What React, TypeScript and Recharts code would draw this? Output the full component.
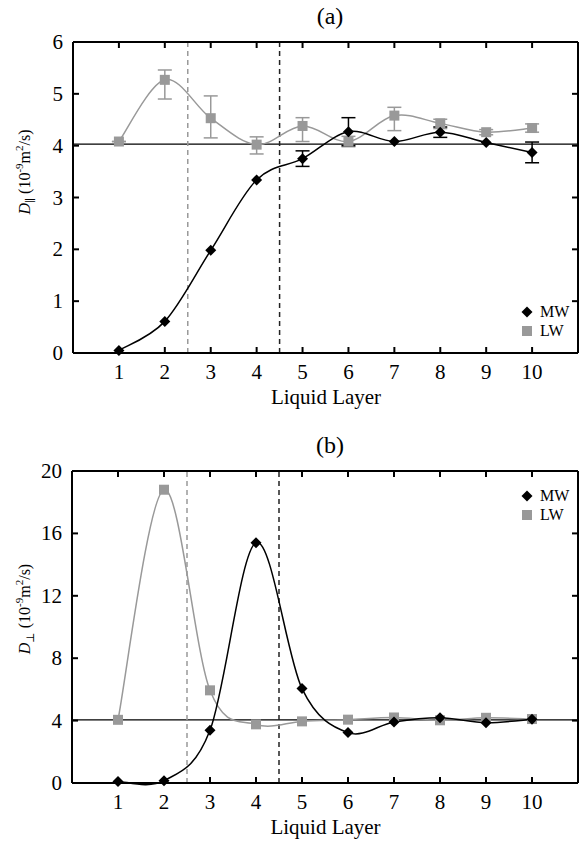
import React from "react";
import {
  ComposedChart,
  Line,
  XAxis,
  YAxis,
  ReferenceLine,
  ErrorBar,
} from "recharts";

const layers = [1, 2, 3, 4, 5, 6, 7, 8, 9, 10];
const xTicks = [1, 2, 3, 4, 5, 6, 7, 8, 9, 10];

// panel (a): parallel diffusion
const mwParallel = [0.05, 0.61, 1.98, 3.34, 3.75, 4.27, 4.08, 4.26, 4.06, 3.87];
const mwParallelErr = [0, 0, 0, 0, 0.15, 0.27, 0, 0.1, 0, 0.2];
const lwParallel = [4.08, 5.27, 4.53, 4.02, 4.38, 4.08, 4.58, 4.43, 4.26, 4.34];
const lwParallelErrLow = [0, 0.37, 0.38, 0.18, 0.3, 0.1, 0.29, 0.1, 0.05, 0.08];
const lwParallelErrHigh = [0, 0.19, 0.43, 0.15, 0.16, 0.1, 0.16, 0.08, 0.05, 0.08];
const parallelTicks = [0, 1, 2, 3, 4, 5, 6];

// panel (b): perpendicular diffusion
const mwPerp = [0.1, 0.15, 3.38, 15.4, 6.05, 3.23, 3.91, 4.19, 3.87, 4.08];
const lwPerp = [4.05, 18.8, 5.94, 3.76, 3.95, 4.06, 4.2, 4.02, 4.18, 4.1];
const perpTicks = [0, 4, 8, 12, 16, 20];

const bulkParallel = 4.03;
const bulkPerp = 4.05;
const boundaryInner = 2.5;
const boundaryOuter = 4.5;

const FONT = '"Liberation Serif", "DejaVu Serif", serif';
const GRAY = "#999999";
const W = 581;
const TICK = 6;

const parallelData = layers.map((layer, i) => ({
  layer,
  mw: mwParallel[i],
  mwErr: mwParallelErr[i],
  lw: lwParallel[i],
  lwErr: [lwParallelErrLow[i], lwParallelErrHigh[i]],
}));

const perpData = layers.map((layer, i) => ({
  layer,
  mw: mwPerp[i],
  lw: lwPerp[i],
}));

// Catmull-Rom spline, close to the smoothed lines in the figure
function catmullRom(context: any) {
  let xs: number[] = [];
  let ys: number[] = [];
  return {
    areaStart() {},
    areaEnd() {},
    lineStart() {
      xs = [];
      ys = [];
    },
    point(x: number, y: number) {
      xs.push(+x);
      ys.push(+y);
    },
    lineEnd() {
      const n = xs.length;
      if (!n) return;
      context.moveTo(xs[0], ys[0]);
      for (let i = 0; i < n - 1; i++) {
        const a = Math.max(i - 1, 0);
        const d = Math.min(i + 2, n - 1);
        context.bezierCurveTo(
          xs[i] + (xs[i + 1] - xs[a]) / 6,
          ys[i] + (ys[i + 1] - ys[a]) / 6,
          xs[i + 1] - (xs[d] - xs[i]) / 6,
          ys[i + 1] - (ys[d] - ys[i]) / 6,
          xs[i + 1],
          ys[i + 1]
        );
      }
    },
  };
}

const diamondDot = (p: any) => {
  const r = 5.5;
  return (
    <path
      key={`d-${p.index}`}
      d={`M${p.cx},${p.cy - r}L${p.cx + r},${p.cy}L${p.cx},${p.cy + r}L${p.cx - r},${p.cy}Z`}
      fill="#000"
    />
  );
};

const squareDot = (p: any) => (
  <rect key={`s-${p.index}`} x={p.cx - 5} y={p.cy - 5} width={10} height={10} fill={GRAY} />
);

const frame = { stroke: "#000", strokeWidth: 2 };

// inward ticks, drawn by the tick renderers
const bottomTick = (axisY: number) => (p: any) => (
  <g key={`b-${p.index}`}>
    <line x1={p.x} x2={p.x} y1={axisY} y2={axisY - TICK} stroke="#000" strokeWidth={2} />
    <text x={p.x} y={axisY + 26} textAnchor="middle" fontFamily={FONT} fontSize={21} fill="#000">
      {p.payload.value}
    </text>
  </g>
);

const topTick = (axisY: number) => (p: any) => (
  <line key={`t-${p.index}`} x1={p.x} x2={p.x} y1={axisY} y2={axisY + TICK} stroke="#000" strokeWidth={2} />
);

const leftTick = (axisX: number) => (p: any) => (
  <g key={`l-${p.index}`}>
    <line x1={axisX} x2={axisX + TICK} y1={p.y} y2={p.y} stroke="#000" strokeWidth={2} />
    <text x={axisX - 10} y={p.y + 7} textAnchor="end" fontFamily={FONT} fontSize={21} fill="#000">
      {p.payload.value}
    </text>
  </g>
);

const rightTick = (axisX: number) => (p: any) => (
  <line key={`r-${p.index}`} x1={axisX} x2={axisX - TICK} y1={p.y} y2={p.y} stroke="#000" strokeWidth={2} />
);

function LegendBox({ left, top }: { left: number; top: number }) {
  const row = (icon: React.ReactNode, text: string, y: number) => (
    <div
      style={{
        position: "absolute",
        left,
        top: y - 9,
        height: 18,
        display: "flex",
        alignItems: "center",
        fontFamily: FONT,
        fontSize: 16,
        whiteSpace: "nowrap",
      }}
    >
      <svg width={14} height={14}>{icon}</svg>
      <span style={{ marginLeft: 6 }}>{text}</span>
    </div>
  );
  return (
    <>
      {row(<path d="M7,1.5L12.5,7L7,12.5L1.5,7Z" fill="#000" />, "MW", top)}
      {row(<rect x={2} y={2} width={10} height={10} fill={GRAY} />, "LW", top + 19)}
    </>
  );
}

function YLabel({ x, y, sub }: { x: number; y: number; sub: string }) {
  return (
    <text transform={`translate(${x}, ${y}) rotate(-90)`} textAnchor="middle" fontFamily={FONT} fontSize={16} fill="#000">
      <tspan fontStyle="italic">D</tspan>
      <tspan fontSize={11} dy={4}>{sub}</tspan>
      <tspan dy={-4}> (10</tspan>
      <tspan fontSize={11} dy={-7}>-9</tspan>
      <tspan dy={7}>m</tspan>
      <tspan fontSize={11} dy={-7}>2</tspan>
      <tspan dy={7}>/s)</tspan>
    </text>
  );
}

interface PanelProps {
  top: number;
  height: number;
  title: string;
  data: any[];
  yDomain: [number, number];
  yTicks: number[];
  bulk: number;
  margin: { top: number; right: number; bottom: number; left: number };
  yAxisWidth: number;
  sub: string;
  yLabelCenter: number;
  xLabelBaseline: number;
  legendTop: number;
  errors: boolean;
}

function Panel(props: PanelProps) {
  const { data, yDomain, yTicks, margin, yAxisWidth, height } = props;
  const plotLeft = margin.left + yAxisWidth;
  const plotRight = W - margin.right;
  const plotBottom = height - margin.bottom - 30;
  const plotCenter = (plotLeft + plotRight) / 2;
  return (
    <div style={{ position: "absolute", left: 0, top: props.top, width: W, height }}>
      <div
        style={{
          position: "absolute",
          left: 280,
          width: 100,
          top: margin.top - 40,
          textAlign: "center",
          fontFamily: FONT,
          fontSize: 24,
          lineHeight: "30px",
        }}
      >
        {props.title}
      </div>
      <ComposedChart width={W} height={height} data={data} margin={margin}>
        <XAxis
          dataKey="layer"
          type="number"
          domain={[0, 11]}
          ticks={xTicks}
          height={30}
          axisLine={frame}
          tickLine={false}
          tick={bottomTick(plotBottom)}
          label={{
            content: () => (
              <text x={plotCenter} y={props.xLabelBaseline} textAnchor="middle" fontFamily={FONT} fontSize={21} fill="#000">
                Liquid Layer
              </text>
            ),
          }}
        />
        <XAxis
          xAxisId="t"
          orientation="top"
          dataKey="layer"
          type="number"
          domain={[0, 11]}
          ticks={xTicks}
          height={1}
          axisLine={frame}
          tickLine={false}
          tick={topTick(margin.top + 1)}
        />
        <YAxis
          type="number"
          domain={yDomain}
          ticks={yTicks}
          width={yAxisWidth}
          axisLine={frame}
          tickLine={false}
          tick={leftTick(plotLeft)}
          label={{ content: () => <YLabel x={30} y={props.yLabelCenter} sub={props.sub} /> }}
        />
        <YAxis
          yAxisId="r"
          orientation="right"
          type="number"
          domain={yDomain}
          ticks={yTicks}
          width={1}
          axisLine={frame}
          tickLine={false}
          tick={rightTick(plotRight - 1)}
        />
        <ReferenceLine y={props.bulk} stroke="#000" strokeWidth={1.2} />
        <ReferenceLine x={boundaryInner} stroke={GRAY} strokeWidth={1.5} strokeDasharray="5 4" />
        <ReferenceLine x={boundaryOuter} stroke="#222" strokeWidth={1.5} strokeDasharray="5 4" />
        {/* invisible series that binds the top and right frame axes */}
        <Line
          xAxisId="t"
          yAxisId="r"
          dataKey="lw"
          stroke="none"
          dot={false}
          activeDot={false}
          legendType="none"
          isAnimationActive={false}
        />
        <Line
          dataKey="lw"
          type={catmullRom as any}
          stroke={GRAY}
          strokeWidth={1.5}
          dot={squareDot}
          activeDot={false}
          isAnimationActive={false}
        >
          {props.errors && <ErrorBar dataKey="lwErr" direction="y" width={7} stroke={GRAY} strokeWidth={1.5} />}
        </Line>
        <Line
          dataKey="mw"
          type={catmullRom as any}
          stroke="#000"
          strokeWidth={1.5}
          dot={diamondDot}
          activeDot={false}
          isAnimationActive={false}
        >
          {props.errors && <ErrorBar dataKey="mwErr" direction="y" width={7} stroke="#000" strokeWidth={1.5} />}
        </Line>
      </ComposedChart>
      <LegendBox left={520} top={props.legendTop} />
    </div>
  );
}

export default function App() {
  return (
    <div style={{ position: "absolute", left: 0, top: 0, width: W, height: 841, background: "#fff" }}>
      <Panel
        top={0}
        height={420}
        title="(a)"
        data={parallelData}
        yDomain={[0, 6]}
        yTicks={parallelTicks}
        bulk={bulkParallel}
        margin={{ top: 41, right: 2, bottom: 37, left: 0 }}
        yAxisWidth={73}
        sub="∥"
        yLabelCenter={172}
        xLabelBaseline={404}
        legendTop={312}
        errors
      />
      <Panel
        top={420}
        height={421}
        title="(b)"
        data={perpData}
        yDomain={[0, 20]}
        yTicks={perpTicks}
        bulk={bulkPerp}
        margin={{ top: 50, right: 2, bottom: 28, left: 0 }}
        yAxisWidth={72}
        sub="⊥"
        yLabelCenter={189}
        xLabelBaseline={414}
        legendTop={76}
        errors={false}
      />
    </div>
  );
}
